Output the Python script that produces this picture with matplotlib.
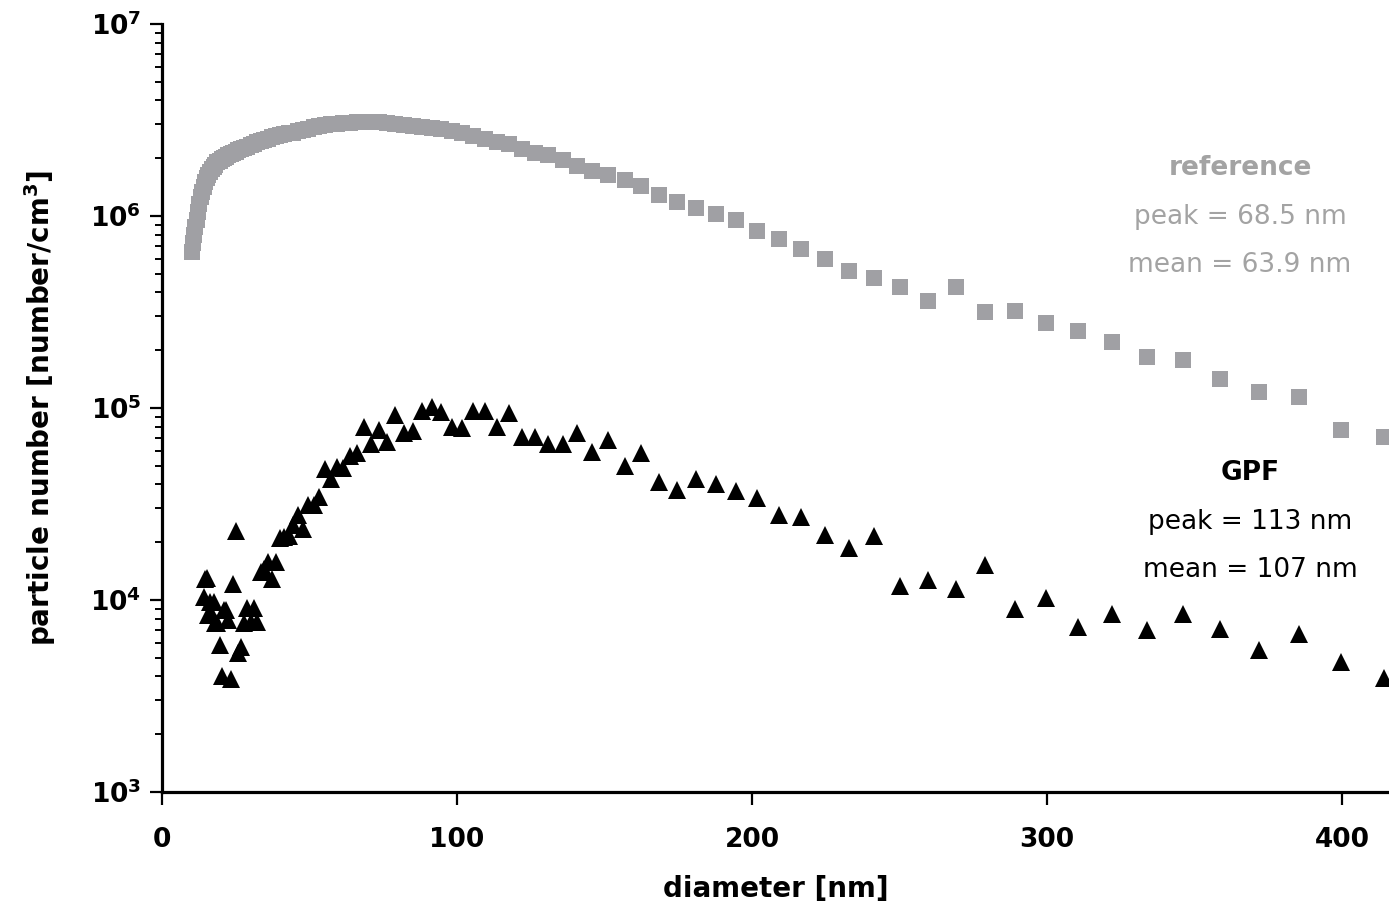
import numpy as np
import matplotlib
matplotlib.use("Agg")
import matplotlib.pyplot as plt
from matplotlib.ticker import FixedLocator, FuncFormatter, LogLocator, NullFormatter

# ---- data ----
diameter_nm = [10.2, 10.6, 10.9, 11.3, 11.8, 12.2, 12.6, 13.1, 13.6, 14.1, 14.6, 15.1,
               15.7, 16.3, 16.8, 17.5, 18.1, 18.8, 19.5, 20.2, 20.9, 21.7, 22.5, 23.3,
               24.1, 25.0, 25.9, 26.9, 27.9, 28.9, 30.0, 31.1, 32.2, 33.4, 34.6, 35.9,
               37.2, 38.5, 40.0, 41.4, 42.9, 44.5, 46.1, 47.8, 49.6, 51.4, 53.3, 55.2,
               57.3, 59.4, 61.5, 63.8, 66.1, 68.5, 71.0, 73.7, 76.4, 79.1, 82.0, 85.1,
               88.2, 91.4, 94.7, 98.2, 101.8, 105.5, 109.4, 113.4, 117.6, 121.9, 126.3,
               131.0, 135.8, 140.7, 145.9, 151.2, 156.8, 162.5, 168.5, 174.7, 181.1,
               187.7, 194.6, 201.7, 209.1, 216.7, 224.7, 232.9, 241.4, 250.3, 259.5,
               269.0, 278.8, 289.0, 299.6, 310.6, 322.0, 333.8, 346.0, 358.7, 371.8,
               385.4, 399.5, 414.2]

reference_counts = [6.5e5, 7.2e5, 8.0e5, 8.8e5, 9.5e5, 1.05e6, 1.15e6, 1.25e6, 1.33e6,
                    1.42e6, 1.50e6, 1.57e6, 1.63e6, 1.70e6, 1.75e6, 1.80e6, 1.85e6,
                    1.90e6, 1.94e6, 1.97e6, 2.00e6, 2.03e6, 2.07e6, 2.10e6, 2.13e6,
                    2.16e6, 2.20e6, 2.23e6, 2.27e6, 2.30e6, 2.35e6, 2.38e6, 2.42e6,
                    2.45e6, 2.50e6, 2.53e6, 2.57e6, 2.60e6, 2.63e6, 2.66e6, 2.70e6,
                    2.72e6, 2.76e6, 2.80e6, 2.85e6, 2.90e6, 2.95e6, 2.98e6, 3.00e6,
                    3.02e6, 3.04e6, 3.05e6, 3.07e6, 3.10e6, 3.09e6, 3.07e6, 3.04e6,
                    3.00e6, 2.97e6, 2.93e6, 2.90e6, 2.87e6, 2.83e6, 2.78e6, 2.70e6,
                    2.60e6, 2.52e6, 2.43e6, 2.37e6, 2.23e6, 2.13e6, 2.08e6, 1.96e6,
                    1.82e6, 1.72e6, 1.64e6, 1.54e6, 1.43e6, 1.29e6, 1.18e6, 1.10e6,
                    1.02e6, 9.5e5, 8.4e5, 7.6e5, 6.7e5, 6.0e5, 5.2e5, 4.75e5, 4.27e5,
                    3.6e5, 4.27e5, 3.16e5, 3.2e5, 2.77e5, 2.52e5, 2.21e5, 1.84e5,
                    1.78e5, 1.42e5, 1.21e5, 1.14e5, 7.7e4, 7.1e4]

gpf_counts = [np.nan, np.nan, np.nan, np.nan, np.nan, np.nan, np.nan, np.nan, np.nan,
              1.04e4, 1.28e4, 1.30e4, 8.4e3, 9.8e3, 8.4e3, 9.8e3, 7.6e3, 7.6e3, 5.8e3,
              4.0e3, 8.9e3, 8.9e3, 7.9e3, 3.9e3, 1.21e4, 2.29e4, 5.3e3, 5.7e3, 7.6e3,
              9.1e3, 7.7e3, 9.1e3, 7.7e3, 1.40e4, 1.45e4, 1.58e4, 1.29e4, 1.58e4,
              2.10e4, 2.13e4, 2.15e4, 2.45e4, 2.77e4, 2.34e4, 3.13e4, 3.13e4, 3.44e4,
              4.81e4, 4.27e4, 4.93e4, 4.85e4, 5.62e4, 5.83e4, 7.95e4, 6.5e4, 7.7e4,
              6.65e4, 9.2e4, 7.4e4, 7.6e4, 9.65e4, 1.01e5, 9.5e4, 7.95e4, 7.9e4,
              9.65e4, 9.65e4, 7.95e4, 9.4e4, 7.08e4, 7.08e4, 6.49e4, 6.49e4, 7.41e4,
              5.9e4, 6.81e4, 4.99e4, 5.83e4, 4.12e4, 3.74e4, 4.27e4, 4.02e4, 3.7e4,
              3.4e4, 2.77e4, 2.71e4, 2.18e4, 1.87e4, 2.15e4, 1.18e4, 1.27e4, 1.14e4,
              1.52e4, 8.98e3, 1.02e4, 7.2e3, 8.5e3, 7.0e3, 8.45e3, 7.06e3, 5.5e3,
              6.65e3, 4.75e3, 3.93e3]

x_ticks = [0, 100, 200, 300, 400]
y_ticks = [1e3, 1e4, 1e5, 1e6, 1e7]

ref_text = ["reference", "peak = 68.5 nm", "mean = 63.9 nm"]
gpf_text = ["GPF", "peak = 113 nm", "mean = 107 nm"]

# ---- style ----
FONT = "DejaVu Sans"
plt.rcParams["font.family"] = [FONT]
plt.rcParams["mathtext.fontset"] = "custom"
plt.rcParams["mathtext.rm"] = FONT
plt.rcParams["mathtext.bf"] = FONT + ":bold"

GRAY = "#A0A0A4"
TXT_GRAY = "#A3A3A3"

W, H = 1389, 910
fig = plt.figure(figsize=(W / 100, H / 100), dpi=100)
ax = fig.add_axes([162 / W, 1 - 792 / H, 1227 / W, 768 / H])

ax.plot(diameter_nm, reference_counts, ls="none", marker="s", ms=11.7, mew=0,
        color=GRAY, zorder=3)
ax.plot(diameter_nm, gpf_counts, ls="none", marker="^", ms=12.5, mew=0,
        color="black", zorder=4)

ax.set_yscale("log")
ax.set_ylim(1e3, 1e7)
ax.set_xlim(0, 415.9)

for s in ("top", "right"):
    ax.spines[s].set_visible(False)
for s in ("left", "bottom"):
    ax.spines[s].set_linewidth(2.3)

ax.xaxis.set_major_locator(FixedLocator(x_ticks))
ax.xaxis.set_minor_locator(FixedLocator([]))
ax.yaxis.set_major_locator(FixedLocator(y_ticks))
ax.yaxis.set_minor_locator(LogLocator(base=10, subs=np.arange(2, 10)))
ax.yaxis.set_minor_formatter(NullFormatter())
ax.yaxis.set_major_formatter(
    FuncFormatter(lambda v, _: r"$\mathbf{10^{%d}}$" % int(round(np.log10(v)))))

ax.tick_params(axis="x", which="major", direction="out", length=9, width=1.6,
               pad=16, labelsize=19)
ax.tick_params(axis="y", which="major", direction="out", length=9, width=1.6,
               pad=6, labelsize=19)
ax.tick_params(axis="y", which="minor", direction="out", length=5, width=1.4)
for lab in ax.get_xticklabels():
    lab.set_fontweight("bold")

ax.set_xlabel("diameter [nm]", fontsize=20, fontweight="bold")
ax.set_ylabel(r"particle number [number/cm$^{\mathbf{3}}$]", fontsize=20,
              fontweight="bold")
ax.xaxis.set_label_coords(0.5, -0.108)
ax.yaxis.set_label_coords(-0.0848, 0.5)

# annotations
ref_y = [0.8125, 0.7487, 0.6862]
gpf_y = [0.4154, 0.3516, 0.2891]
for i, (t, y) in enumerate(zip(ref_text, ref_y)):
    ax.text(0.8786, y, t, transform=ax.transAxes, ha="center", va="center",
            fontsize=19, color=TXT_GRAY, fontweight="bold" if i == 0 else "normal",
            clip_on=False)
for i, (t, y) in enumerate(zip(gpf_text, gpf_y)):
    ax.text(0.8867, y, t, transform=ax.transAxes, ha="center", va="center",
            fontsize=19, color="black", fontweight="bold" if i == 0 else "normal",
            clip_on=False)

fig.savefig("out.png", dpi=100)
